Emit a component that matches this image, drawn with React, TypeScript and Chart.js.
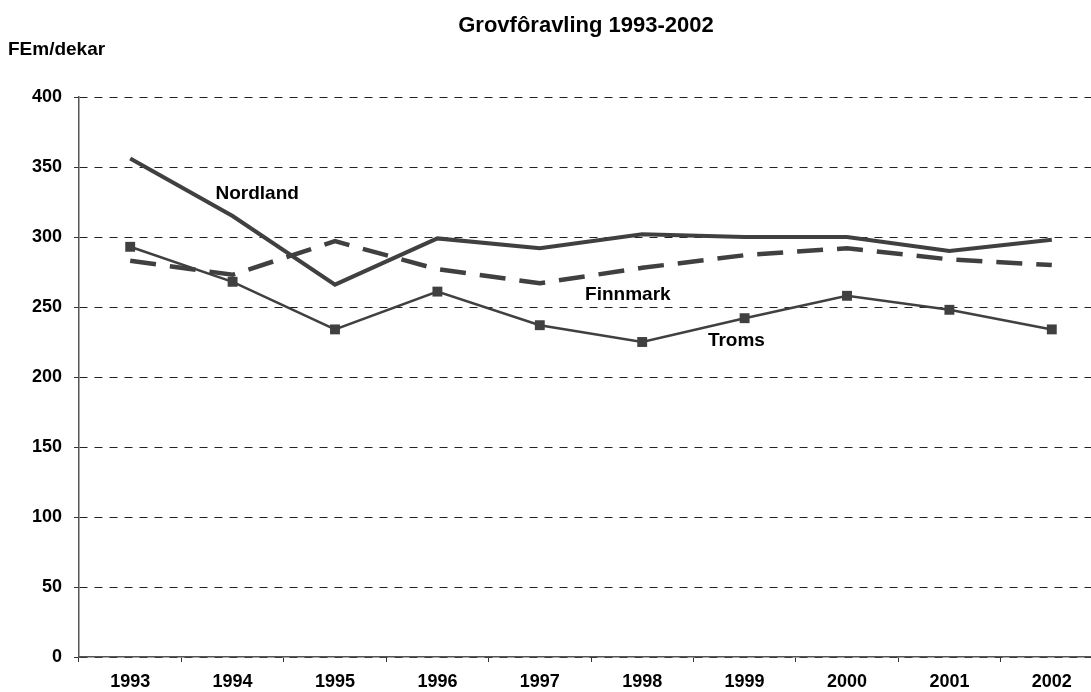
import React, { useEffect, useRef } from "react";
import { Chart, registerables } from "chart.js";

Chart.register(...registerables);

const years = ["1993", "1994", "1995", "1996", "1997", "1998", "1999", "2000", "2001", "2002"];
const nordland = [356, 315, 266, 299, 292, 302, 300, 300, 290, 298];
const finnmark = [283, 273, 297, 277, 267, 278, 287, 292, 284, 280];
const troms = [293, 268, 234, 261, 237, 225, 242, 258, 248, 234];

const seriesNames = ["Nordland", "Finnmark", "Troms"];
const labelXIndex = [1.24, 4.86, 5.92];
const labelYValue = [331, 258.5, 226];

const titleText = "Grovfôravling 1993-2002";
const yTitleText = "FEm/dekar";

const FONT = "'Liberation Sans', Arial, sans-serif";
const INK = "#404040";

const textPlugin = {
  id: "texts",
  afterDraw(chart: any) {
    const ctx = chart.ctx;
    const xs = chart.scales.x;
    const ys = chart.scales.y;
    ctx.save();
    ctx.fillStyle = "#000";
    ctx.textBaseline = "middle";
    ctx.textAlign = "center";
    ctx.font = `bold 22px ${FONT}`;
    ctx.fillText(titleText, chart.width / 2, 26);
    ctx.textAlign = "left";
    ctx.font = `bold 19px ${FONT}`;
    ctx.fillText(yTitleText, 8, 50);
    ctx.textAlign = "center";
    for (let i = 0; i < seriesNames.length; i++) {
      ctx.fillText(
        seriesNames[i],
        xs.getPixelForValue(labelXIndex[i]),
        ys.getPixelForValue(labelYValue[i])
      );
    }
    ctx.restore();
  },
};

export default function App() {
  const ref = useRef<HTMLCanvasElement | null>(null);
  useEffect(() => {
    document.body.style.margin = "0";
    const chart = new Chart(ref.current as HTMLCanvasElement, {
      type: "line",
      data: {
        labels: years,
        datasets: [
          {
            label: seriesNames[0],
            data: nordland,
            borderColor: INK,
            borderWidth: 4,
            pointRadius: 0,
            tension: 0,
          },
          {
            label: seriesNames[1],
            data: finnmark,
            borderColor: INK,
            borderWidth: 4.5,
            borderDash: [26, 14],
            pointRadius: 0,
            tension: 0,
          },
          {
            label: seriesNames[2],
            data: troms,
            borderColor: INK,
            borderWidth: 2.5,
            pointStyle: "rect",
            pointRadius: 7,
            pointBackgroundColor: INK,
            pointBorderWidth: 0,
            tension: 0,
          },
        ],
      },
      options: {
        animation: false,
        responsive: true,
        maintainAspectRatio: false,
        layout: { padding: { top: 97, right: 69, left: 0, bottom: 0 } },
        plugins: {
          legend: { display: false },
          title: { display: false },
          tooltip: { enabled: false },
        },
        font: { family: FONT },
        scales: {
          x: {
            type: "category",
            offset: true,
            grid: {
              display: true,
              offset: true,
              drawOnChartArea: false,
              drawTicks: true,
              tickLength: 5,
              tickColor: "#333",
            },
            border: { display: true, color: "#555", width: 1.5 },
            ticks: {
              color: "#000",
              padding: 9,
              maxRotation: 0,
              font: { family: FONT, size: 18, weight: "bold" },
            },
            afterFit(scale: any) {
              scale.height = 35;
            },
          },
          y: {
            min: 0,
            max: 400,
            ticks: {
              stepSize: 50,
              color: "#000",
              padding: 12,
              font: { family: FONT, size: 18, weight: "bold" },
            },
            grid: {
              color: "#222",
              lineWidth: 1,
              tickLength: 5,
              tickBorderDash: [],
              tickColor: "#333",
            },
            border: { display: true, color: "#555", width: 1.5, dash: [8, 7] },
            afterFit(scale: any) {
              scale.width = 79;
            },
          },
        },
      } as any,
      plugins: [textPlugin],
    });
    return () => chart.destroy();
  }, []);
  return (
    <div style={{ width: 1091, height: 692, overflow: "hidden", position: "relative" }}>
      <div style={{ width: 1172, height: 692, position: "absolute", left: 0, top: 0 }}>
        <canvas ref={ref} />
      </div>
    </div>
  );
}
